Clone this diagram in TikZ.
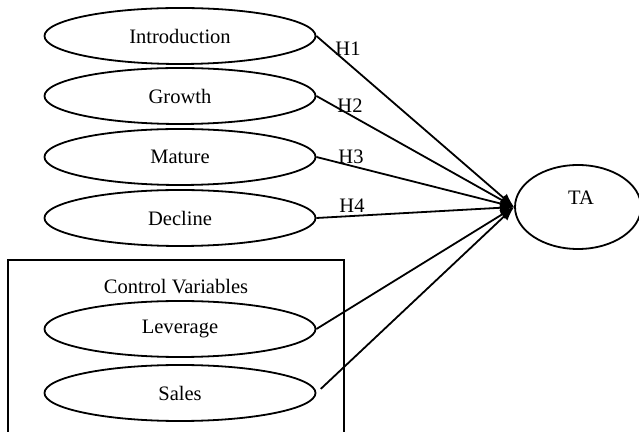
\documentclass[tikz,border=0pt]{standalone}
\usepackage{fontspec}
\setmainfont{Liberation Serif}
\usetikzlibrary{shapes,arrows,arrows.meta,positioning}

\begin{document}
\begin{tikzpicture}[x=0.5bp, y=-0.5bp, line width=0.9bp,
  varbox/.style={font=\fontsize{10.3}{12}\selectfont, draw, ellipse, inner sep=0, minimum width=135.5bp, minimum height=28bp, align=center},
  hlabel/.style={font=\fontsize{10.3}{12}\selectfont, inner sep=0}]
\useasboundingbox (0,0) rectangle (639,432);
%control box
\draw (8,445) -- (8,260) -- (344,260) -- (344,445);
\node[hlabel] (ctrl) at (176,287) {Control Variables};
\node[varbox] (v1) at (180,36) {Introduction};
\node[varbox] (v2) at (180,96) {Growth};
\node[varbox] (v3) at (180,157) {Mature};
\node[varbox] (v4) at (180,218) {Decline};
\node[varbox] (v5) at (180,329) {Leverage};
\node[varbox] (v6) at (180,393) {Sales};
\node[varbox, minimum width=63bp, minimum height=42bp] (ta) at (578,207) {};
\node[hlabel] (talabel) at (581,198) {TA};
\draw (v1.east) edge[-Latex] (ta.west);
\draw (v2.east) edge[-Latex] (ta.west);
\draw (v3.east) edge[-Latex] (ta.west);
\draw (v4.east) edge[-Latex] (ta.west);
\draw (v5.east) edge[-Latex] (ta.west);
\draw (v6.east) edge[-Latex, shorten <=3bp] (ta.west);
\node[hlabel] (h1) at (348,49) {H1};
\node[hlabel] (h2) at (350,106) {H2};
\node[hlabel] (h3) at (351,157) {H3};
\node[hlabel] (h4) at (352,206) {H4};
\end{tikzpicture}
\end{document}
